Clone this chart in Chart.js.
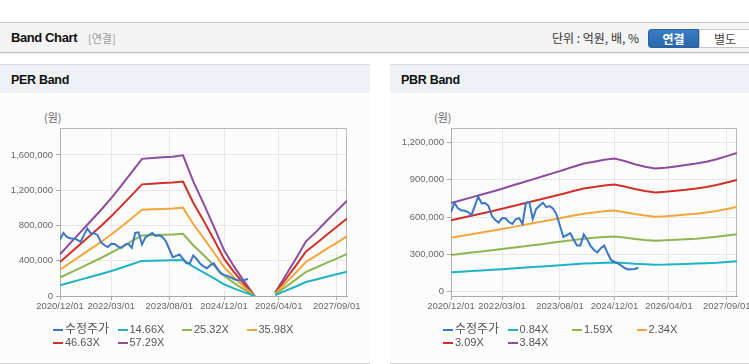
<!DOCTYPE html>
<html>
<head>
<meta charset="utf-8">
<script src="https://cdn.jsdelivr.net/npm/chart.js@4.4.1/dist/chart.umd.min.js"></script>
<style>
html,body{margin:0;padding:0;background:#fff;width:749px;height:364px;overflow:hidden;
  font-family:"Liberation Sans",Arial,"Noto Sans CJK KR",sans-serif;}
.abs{position:absolute;}
#topbar{left:0;top:22px;width:749px;height:29px;background:#f4f4f4;border-top:1px solid #c9c9c9;border-bottom:1px solid #c2c2c2;box-shadow:0 1px 2px rgba(0,0,0,0.10);}
#topbar .title{left:11px;top:7px;font-weight:bold;font-size:13px;letter-spacing:-0.4px;color:#111;}
#topbar .sub{left:88px;top:7px;font-size:11px;color:#9a9a9a;font-family:"Noto Sans CJK KR",sans-serif;line-height:16px;}
#topbar .unit{left:552px;top:6px;font-size:12px;color:#333;font-family:"Noto Sans CJK KR",sans-serif;line-height:17px;}
.btn{top:6px;height:18px;line-height:18px;text-align:center;font-size:12px;font-weight:bold;font-family:"Noto Sans CJK KR",sans-serif;}
#b1{left:648px;width:51px;background:linear-gradient(#3a7cc2,#2a66aa);color:#fff;border-radius:3px 0 0 3px;border:1px solid #2a62a0;box-sizing:border-box;height:19px;}
#b2{left:699px;width:52px;background:#fff;color:#444;border:1px solid #c8c8c8;box-sizing:border-box;height:19px;font-weight:normal;}
.panel{top:64px;height:298px;background:#fcfcfc;border-top:1px solid #dadada;border-bottom:1px solid #d6d6d6;}
.ph{position:absolute;left:0;top:0;right:0;height:28px;background:#eef1f6;}
.ph span{position:absolute;left:11px;top:8px;font-weight:bold;font-size:12.5px;letter-spacing:-0.3px;color:#111;}
.unitlbl{top:110px;font-size:11px;color:#666;font-family:"Noto Sans CJK KR",sans-serif;line-height:14px;}
canvas.c{position:absolute;top:93px;height:270px;}
.legend{top:323px;width:270px;font-size:11px;color:#555;}
.legend .it{position:absolute;height:13px;line-height:13px;white-space:nowrap;}
.legend .mk{position:absolute;left:0;top:6px;width:10px;height:2px;}
.legend .tx{position:absolute;left:12px;top:0;}
</style>
</head>
<body>
<div id="topbar" class="abs">
  <span class="abs title">Band Chart</span>
  <span class="abs sub">[연결]</span>
  <span class="abs unit">단위 : 억원, 배, %</span>
  <div class="abs btn" id="b1">연결</div>
  <div class="abs btn" id="b2">별도</div>
</div>
<div class="abs panel" style="left:0;width:370px;"><div class="ph"><span>PER Band</span></div></div>
<div class="abs panel" style="left:390px;width:359px;"><div class="ph"><span>PBR Band</span></div></div>
<span class="abs unitlbl" style="left:44px;">(원)</span>
<span class="abs unitlbl" style="left:434px;">(원)</span>
<canvas id="per" class="c" style="left:0;width:370px;" width="370" height="270"></canvas>
<canvas id="pbr" class="c" style="left:390px;width:359px;" width="359" height="270"></canvas>
<div id="legPer" class="abs legend" style="left:53px;"></div>
<div id="legPbr" class="abs legend" style="left:443px;"></div>
<script>
// ---------- data ----------
const xTickLabels = ['2020/12/01','2022/03/01','2023/08/01','2024/12/01','2026/04/01','2027/09/01'];
const perYTicks = [0, 400000, 800000, 1200000, 1600000];
const pbrYTicks = [0, 300000, 600000, 900000, 1200000];

const bandDates = ['2020/12','2021/03','2021/06','2021/09','2021/12','2022/03','2022/06','2022/09','2022/12',
  '2023/03','2023/06','2023/09','2023/12','2024/03','2024/06','2024/09','2024/12','2025/03','2025/06',
  '2025/09','2025/12','2026/03','2026/06','2026/09','2026/12','2027/03','2027/06','2027/09','2027/12'];

const priceDates = ['2020/12','2021/01','2021/02','2021/03','2021/04','2021/05','2021/06','2021/07','2021/08',
  '2021/09','2021/10','2021/11','2021/12','2022/01','2022/02','2022/03','2022/04','2022/05','2022/06',
  '2022/07','2022/08','2022/09','2022/10','2022/11','2022/12','2023/01','2023/02','2023/03','2023/04',
  '2023/05','2023/06','2023/07','2023/08','2023/09','2023/10','2023/11','2023/12','2024/01','2024/02',
  '2024/03','2024/04','2024/05','2024/06','2024/07','2024/08','2024/09','2024/10','2024/11','2024/12',
  '2025/01','2025/02','2025/03','2025/04','2025/05','2025/06','2025/07'];
const adjPrice = [640000,715000,670000,655000,650000,640000,615000,690000,765000,
  710000,712000,690000,610000,575000,555000,592000,590000,560000,545000,
  582000,590000,545000,715000,722000,585000,665000,690000,715000,680000,
  688000,668000,620000,530000,440000,455000,470000,420000,372000,372000,
  460000,420000,368000,335000,315000,350000,370000,310000,255000,240000,
  228000,210000,190000,178000,180000,182000,192000];

const perLabels = ['14.66X','25.32X','35.98X','46.63X','57.29X'];
const per1466 = [121000,154000,186000,218000,250000,284000,321000,360000,398000,401000,402000,404000,408000,333000,269000,202000,133000,84000,41000,0,null,10000,59000,108000,159000,187000,218000,246000,276000];
const per2532 = [210000,265000,320000,376000,431000,491000,555000,621000,687000,692000,695000,698000,705000,575000,464000,349000,230000,146000,71000,0,null,18000,102000,186000,274000,323000,376000,424000,477000];
const per3598 = [298000,377000,455000,534000,612000,697000,788000,882000,977000,983000,987000,992000,1002000,816000,659000,496000,327000,207000,100000,0,null,25000,144000,264000,389000,458000,534000,603000,678000];
const per4663 = [386000,488000,590000,692000,794000,904000,1022000,1144000,1266000,1274000,1280000,1286000,1298000,1058000,855000,643000,423000,269000,130000,0,null,33000,187000,342000,505000,595000,692000,786000,879000];
const per5729 = [474000,600000,725000,850000,975000,1110000,1255000,1405000,1555000,1565000,1572000,1580000,1595000,1300000,1050000,790000,520000,330000,160000,0,null,40000,230000,420000,620000,730000,850000,965000,1080000];

const pbrLabels = ['0.84X','1.59X','2.34X','3.09X','3.84X'];
const pbr084 = [156000,161000,166000,171000,176000,181000,187000,192000,198000,203000,209000,214000,220000,226000,229000,232000,234000,230000,224000,220000,217000,218000,221000,223000,226000,229000,233000,239000,244000];
const pbr159 = [295000,304000,314000,323000,333000,343000,353000,363000,374000,384000,395000,405000,416000,426000,433000,439000,443000,435000,424000,416000,410000,413000,417000,421000,426000,433000,441000,451000,462000];
const pbr234 = [434000,448000,462000,476000,490000,504000,519000,535000,550000,565000,580000,596000,612000,627000,636000,646000,652000,639000,624000,612000,603000,607000,613000,620000,627000,636000,649000,664000,680000];
const pbr309 = [573000,592000,610000,629000,647000,667000,687000,707000,727000,747000,767000,787000,809000,829000,841000,853000,861000,845000,825000,809000,797000,803000,811000,819000,829000,841000,857000,877000,898000];
const pbr384 = [712000,735000,758000,781000,804000,828000,853000,878000,903000,928000,953000,978000,1005000,1030000,1045000,1060000,1070000,1050000,1025000,1005000,990000,997000,1007000,1018000,1030000,1045000,1065000,1090000,1116000];

const priceLabel = '수정주가';
const colors = ['#3a78c6','#1fb3c3','#8fb553','#f4a63a','#cf3129','#8d4b9c'];

// ---------- helpers ----------
function monthIdx(s){ const p = s.split('/'); return (parseInt(p[0])-2020)*12 + (parseInt(p[1])-12); }
const xTickMonths = xTickLabels.map(monthIdx);
function pts(dates, vals){ return dates.map((d,i)=>({x:monthIdx(d), y:vals[i]})); }

const framePlugin = {
  id:'frame',
  beforeDatasetsDraw(chart){
    const {ctx, chartArea:a} = chart;
    ctx.save();
    ctx.strokeStyle = '#b9b9b9'; ctx.lineWidth = 1;
    ctx.beginPath();
    ctx.moveTo(Math.round(a.left)+0.5, Math.round(a.top)+0.5);
    ctx.lineTo(Math.round(a.right)-0.5, Math.round(a.top)+0.5);
    ctx.lineTo(Math.round(a.right)-0.5, Math.round(a.bottom));
    ctx.stroke();
    ctx.restore();
  }
};

function makeChart(id, legId, bandLabels, bands, yTicks, yMin, yMax, padLeft, padRight){
  const ds = [{label:priceLabel, data:pts(priceDates, adjPrice)}];
  bandLabels.forEach((l,i)=>ds.push({label:l, data:pts(bandDates, bands[i])}));
  ds.forEach((d,i)=>{ d.borderColor = colors[i]; d.backgroundColor = colors[i]; d.borderWidth = 2;
    d.pointRadius = 0; d.tension = 0; d.spanGaps = false; d.fill = false; });
  ds.forEach((d,i)=>{ d.order = i===0 ? 0 : 1; });
  new Chart(document.getElementById(id), {
    type:'line',
    data:{datasets:ds},
    plugins:[framePlugin],
    options:{
      responsive:false, animation:false, parsing:true,
      layout:{padding:{top:35,right:padRight,bottom:47,left:padLeft}},
      plugins:{legend:{display:false}, tooltip:{enabled:false}},
      scales:{
        x:{type:'linear', min:0, max:84,
          afterBuildTicks:s=>{ s.ticks = xTickMonths.map(v=>({value:v})); },
          afterFit:s=>{ s.height = 20; s.paddingLeft = 0; s.paddingRight = 0; },
          ticks:{callback:(v,i)=>xTickLabels[i], autoSkip:false, maxRotation:0, minRotation:0,
            font:{family:'"Liberation Sans", Arial', size:9.5}, color:'#666', padding:1},
          grid:{color:'#e7e7e7', tickLength:4, tickColor:'#aaa'},
          border:{color:'#a9a9a9'}
        },
        y:{type:'linear', min:yMin, max:yMax,
          afterBuildTicks:s=>{ s.ticks = yTicks.map(v=>({value:v})); },
          afterFit:s=>{ s.width = 60; s.paddingTop = 0; s.paddingBottom = 0; },
          ticks:{callback:v=>v.toLocaleString('en-US'),
            font:{family:'"Liberation Sans", Arial', size:9.5}, color:'#666', padding:3},
          grid:{color:'#e7e7e7', tickLength:4, tickColor:'#aaa'},
          border:{color:'#b0b0b0'}
        }
      }
    }
  });
  const leg = document.getElementById(legId);
  ds.forEach((d,i)=>{
    const it = document.createElement('div'); it.className='it';
    it.style.left = (i%4)*64.5 + 'px'; it.style.top = Math.floor(i/4)*13 + 'px';
    const mk = document.createElement('span'); mk.className='mk'; mk.style.background = d.borderColor;
    const tx = document.createElement('span'); tx.className='tx'; tx.textContent = d.label;
    if(i===0){ tx.style.fontFamily='"Noto Sans CJK KR", sans-serif'; tx.style.fontSize='12px'; tx.style.top='-2px'; }
    it.appendChild(mk); it.appendChild(tx); leg.appendChild(it);
  });
}

makeChart('per','legPer', perLabels, [per1466,per2532,per3598,per4663,per5729], perYTicks, 0, 1905000, 0, 23);
makeChart('pbr','legPbr', pbrLabels, [pbr084,pbr159,pbr234,pbr309,pbr384], pbrYTicks, -35000, 1316000, 1, 12);
</script>
</body>
</html>
